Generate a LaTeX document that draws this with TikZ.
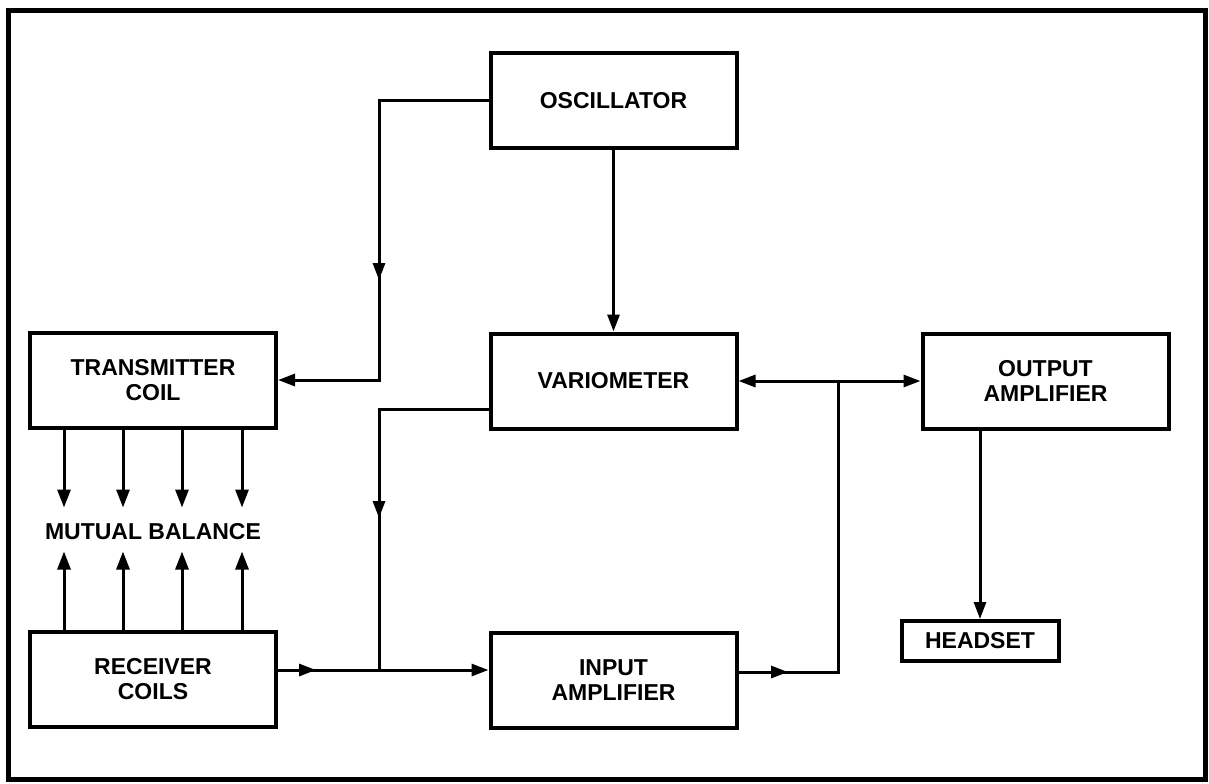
\documentclass[tikz,border=0pt]{standalone}
\usepackage{fontspec}
\setmainfont{Liberation Sans}
\usetikzlibrary{arrows.meta,positioning}
\tikzset{
  block/.style={draw, line width=2pt, minimum width=123pt, minimum height=47.5pt,
    align=center, inner sep=0pt, font=\bfseries\fontsize{11.5}{12.5}\selectfont},
  link/.style={line width=1.5pt},
  arr/.style={link, -{Triangle[length=8.5pt,width=6pt]}},
  coilarr/.style={link, -{Triangle[length=9pt,width=6.5pt]}},
}
\begin{document}
\begin{tikzpicture}[x=0.5pt,y=-0.5pt]
          \useasboundingbox (0,0) rectangle (1209,783);
          % Frame
          \draw[line width=2.5pt] (8,10) rectangle (1205,779);
          % Blocks
          \node[block] (osc) at (613.5,100.5) {OSCILLATOR};
          \node[block] (var) at (613.5,381) {VARIOMETER};
          \node[block] (tx) at (153,380) {TRANSMITTER\\COIL};
          \node[block] (rx) at (153,679) {RECEIVER\\COILS};
          \node[block] (inamp) at (613.5,680) {INPUT\\AMPLIFIER};
          \node[block] (outamp) at (1045.5,381) {OUTPUT\\AMPLIFIER};
          \node[block, minimum width=78.5pt, minimum height=20pt] (hs) at (980,641) {HEADSET};
          \node[font=\bfseries\fontsize{11.5}{12}\selectfont] (mutual) at (153,532) {MUTUAL BALANCE};
          % Junction points
          \coordinate (tmid) at (379,280);
          \coordinate (vtap) at (379,409);
          \coordinate (vmid) at (379,518);
          \coordinate (rjoin) at (379,670);
          \coordinate (rmid) at (316,670);
          \coordinate (ojoin) at (838,672);
          \coordinate (omid) at (788,672);
          % Oscillator feeds
          \draw[arr] (osc.west) -| (tmid);
          \draw[arr] (osc.west -| tmid) |- (tx.east);
          \draw[arr] (osc.south) -- (var.north);
          % Variometer to input line
          \draw[arr] (vtap -| var.west) -| (vmid);
          \draw[link] (vtap) -- (rjoin);
          % Receiver to input amplifier
          \draw[arr] (rjoin -| rx.east) -- (rmid);
          \draw[arr] (rjoin -| rx.east) -- (rjoin -| inamp.west);
          % Input amplifier back up
          \draw[arr] (ojoin -| inamp.east) -- (omid);
          \draw[link] (ojoin -| inamp.east) -- (ojoin) -- (ojoin |- var.east);
          \draw[arr] (ojoin |- var.east) -- (var.east);
          \draw[arr] (ojoin |- var.east) -- (outamp.west);
          % Output to headset
          \draw[arr] (outamp.south -| hs.north) -- (hs.north);
          % Mutual balance arrows
          \foreach \x in {36,95,154,214} {
            \draw[coilarr] (tx.south west) ++(\x,0) -- ++(0,78);
            \draw[coilarr] (rx.north west) ++(\x,0) -- ++(0,-78);
          }
\end{tikzpicture}
\end{document}
